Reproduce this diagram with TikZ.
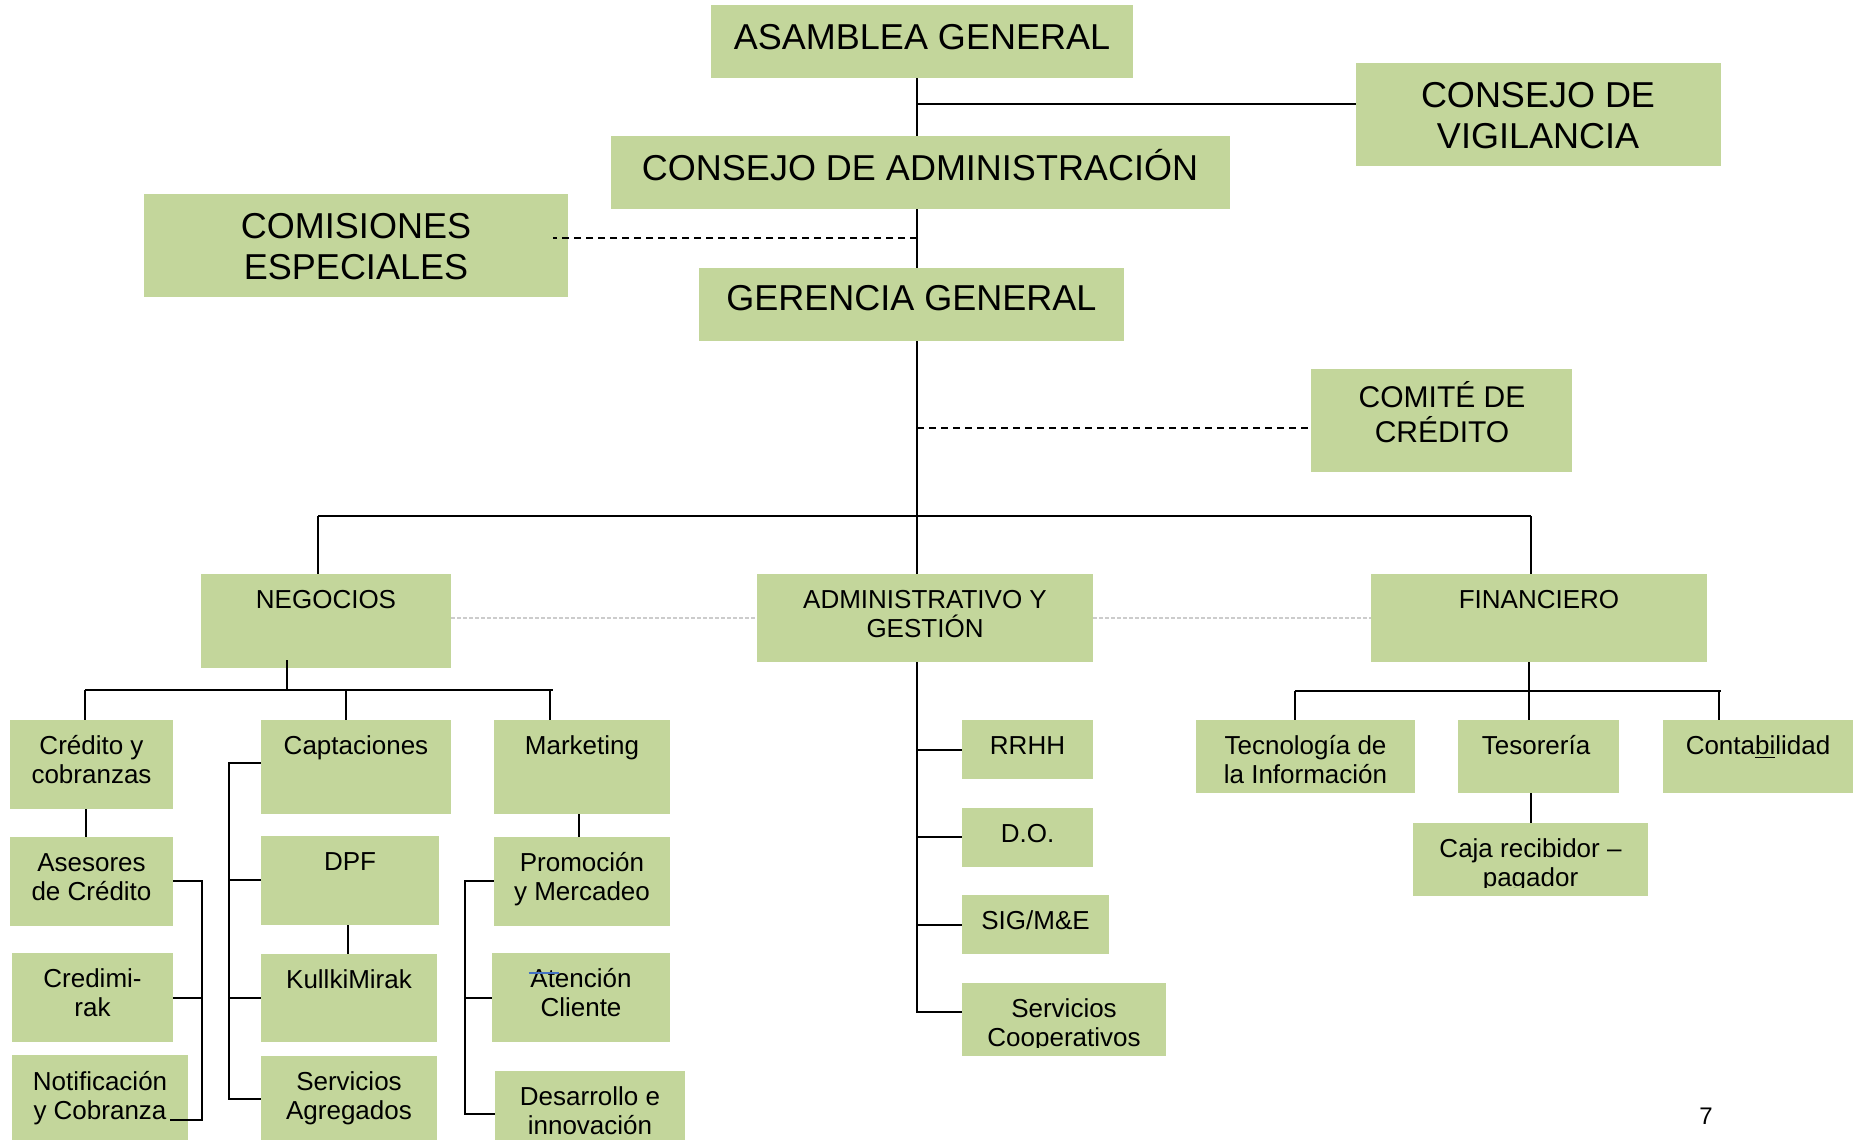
\documentclass[tikz,border=0pt]{standalone}
\usepackage{fontspec}
\setmainfont{Liberation Sans}
\usetikzlibrary{fit,calc}
\definecolor{boxgreen}{RGB}{195,214,155}
\definecolor{strikeblue}{RGB}{68,114,196}
\newcommand\orgbox[5]{\node[orgbox, fit={(#2,#3) (#4,#5)}] (#1) {};}
\newcommand\orgtext[5]{\node[anchor=north, align=center, inner sep=0pt, font=\fontsize{#3}{#4}\selectfont] at (#1,{#2-2*#3}) {\rule{0pt}{#3pt}#5};}
\tikzset{
  orgbox/.style={rectangle, fill=boxgreen, draw=none, inner sep=0pt},
  conn/.style={line width=0.9pt},
  trunk/.style={line width=0.6pt},
  bus/.style={line width=1.1pt},
  subbus/.style={line width=1.05pt},
  dsh/.style={dash pattern=on 3.5pt off 2.5pt, line width=0.8pt},
  gdot/.style={draw=black!20, dash pattern=on 2pt off 1pt, line width=1pt}
}
\begin{document}
\begin{tikzpicture}[x=0.5pt,y=-0.5pt]
\useasboundingbox (0,0) rectangle (1856,1140);
% ---------- boxes ----------
\orgbox{asm}{711}{5}{1133}{78}
\orgbox{vig}{1356}{63}{1721}{166}
\orgbox{cadm}{611}{136}{1230}{209}
\orgbox{com}{144}{194}{568}{297}
\orgbox{ger}{699}{268}{1124}{341}
\orgbox{cte}{1311}{369}{1572}{472}
\orgbox{neg}{201}{574}{451}{668}
\orgbox{adm}{757}{574}{1093}{662}
\orgbox{fin}{1371}{574}{1707}{662}
\orgbox{cyc}{10}{720}{173}{809}
\orgbox{cap}{261}{720}{451}{814}
\orgbox{mkt}{494}{720}{670}{814}
\orgbox{ase}{10}{837}{173}{926}
\orgbox{cdr}{12}{953}{173}{1042}
\orgbox{not}{12}{1055}{188}{1140}
\orgbox{dpf}{261}{836}{439}{925}
\orgbox{kul}{261}{954}{437}{1042}
\orgbox{sag}{261}{1056}{437}{1140}
\orgbox{pym}{494}{837}{670}{926}
\orgbox{atc}{492}{953}{670}{1042}
\orgbox{dei}{495}{1071}{685}{1140}
\orgbox{rrh}{962}{720}{1093}{779}
\orgbox{dor}{962}{808}{1093}{867}
\orgbox{sig}{962}{895}{1109}{954}
\orgbox{sco}{962}{983}{1166}{1056}
\orgbox{tec}{1196}{720}{1415}{793}
\orgbox{tes}{1458}{720}{1619}{793}
\orgbox{cnt}{1663}{720}{1853}{793}
\orgbox{caj}{1413}{823}{1648}{896}
% ---------- texts ----------
\orgtext{922}{49}{18}{20.5}{ASAMBLEA GENERAL}
\orgtext{1538}{107}{18}{20.5}{CONSEJO DE\\VIGILANCIA}
\orgtext{920}{180}{18}{20.5}{CONSEJO DE ADMINISTRACIÓN}
\orgtext{356}{238}{18}{20.5}{COMISIONES\\ESPECIALES}
\orgtext{911.5}{310.5}{18}{20.5}{GERENCIA GENERAL}
\orgtext{1442}{407}{15}{17.5}{COMITÉ DE\\CRÉDITO}
\orgtext{326}{608}{13}{14.5}{NEGOCIOS}
\orgtext{925}{608}{13}{14.5}{ADMINISTRATIVO Y\\GESTIÓN}
\orgtext{1539}{608}{13}{14.5}{FINANCIERO}
\orgtext{91.5}{754}{13}{14.5}{Crédito y\\cobranzas}
\orgtext{356}{754}{13}{14.5}{Captaciones}
\orgtext{582}{754}{13}{14.5}{Marketing}
\orgtext{91.5}{871}{13}{14.5}{Asesores\\de Crédito}
\orgtext{92.5}{987}{13}{14.5}{Credimi-\\rak}
\orgtext{100}{1090}{13}{14.5}{Notificación\\y Cobranza}
\orgtext{350}{870}{13}{14.5}{DPF}
\orgtext{349}{988}{13}{14.5}{KullkiMirak}
\orgtext{349}{1090}{13}{14.5}{Servicios\\Agregados}
\orgtext{582}{871}{13}{14.5}{Promoción\\y Mercadeo}
\orgtext{581}{987}{13}{14.5}{Atención\\Cliente}
\orgtext{590}{1105}{13}{14.5}{Desarrollo e\\innovación}
\orgtext{1027.5}{754}{13}{14.5}{RRHH}
\orgtext{1027.5}{842}{13}{14.5}{D.O.}
\orgtext{1035.5}{929}{13}{14.5}{SIG/M\&E}
\begin{scope}
\clip (sco.north west) rectangle ($(sco.south east)+(0,-9)$);
\orgtext{1064}{1017}{13}{14.5}{Servicios\\Cooperativos}
\end{scope}
\orgtext{1305.5}{754}{13}{14.5}{Tecnología de\\la Información}
\orgtext{1536}{754}{13}{14.5}{Tesorería}
\orgtext{1758}{754}{13}{14.5}{Conta\underline{bi}lidad}
\begin{scope}
\clip (caj.north west) rectangle ($(caj.south east)+(0,-9)$);
\orgtext{1530.5}{857}{13}{14.5}{Caja recibidor –\\pagador}
\end{scope}
\node[font=\fontsize{12}{14}\selectfont, inner sep=0pt] (pg) at (1706,1116) {7};
\draw[strikeblue, line width=1pt] ($(atc.north west)+(37,20)$) -- ($(atc.north west)+(67,20)$);
% ---------- top connectors ----------
\coordinate (tx) at (917,0);
\draw[trunk] (asm.south -| tx) -- (cadm.north -| tx);
\draw[trunk] (cadm.south -| tx) -- (ger.north -| tx);
\draw[trunk] (ger.south -| tx) -- (adm.north -| tx);
\coordinate (jv) at (917,104);
\draw[line width=1pt] (jv) -- (jv -| vig.west);
\coordinate (jc) at (917,238);
\draw[dsh] (jc) -- ($(jc -| com.east)+(-15,0)$);
\coordinate (jt) at (917,428);
\draw[dsh] (jt) -- (jt -| cte.west);
\coordinate (bL) at (318,516);
\coordinate (bR) at (1531,516);
\draw[bus] (bL) -- (bR);
\draw[conn] (bL) -- (bL |- neg.north);
\draw[conn] (bR) -- (bR |- fin.north);
\draw[gdot] (adm.west -| neg.east) -- (adm.west);
\draw[gdot] (adm.east) -- (fin.west);
% ---------- negocios ----------
\coordinate (nb) at (287,690);
\coordinate (nL) at (85,690);
\coordinate (nC) at (346,690);
\coordinate (nM) at (550,690);
\coordinate (nR) at (553,690);
\draw[conn] ($(neg.south -| nb)+(0,-8)$) -- (nb);
\draw[subbus] (nL) -- (nR);
\draw[conn] (nL) -- (nL |- cyc.north);
\draw[conn] (nC) -- (nC |- cap.north);
\draw[conn] (nM) -- (nM |- mkt.north);
\coordinate (ca) at (86,0);
\draw[conn] (cyc.south -| ca) -- (ase.north -| ca);
\coordinate (k1) at (202,881);
\coordinate (k2) at (202,998);
\coordinate (k3) at (202,1120);
\draw[conn] (k1 -| ase.east) -- (k1) -- (k3) -- ($(k3 -| cdr.east)+(-3,0)$);
\draw[conn] (k2 -| cdr.east) -- (k2);
\coordinate (p1) at (229,763);
\coordinate (p2) at (229,880);
\coordinate (p3) at (229,998);
\coordinate (p4) at (229,1099);
\draw[conn] (p1 -| cap.west) -- (p1) -- (p4) -- (p4 -| sag.west);
\draw[conn] (p2) -- (p2 -| dpf.west);
\draw[conn] (p3) -- (p3 -| kul.west);
\coordinate (dk) at (348,0);
\draw[conn] (dpf.south -| dk) -- (kul.north -| dk);
\coordinate (mk) at (579,0);
\draw[conn] (mkt.south -| mk) -- (pym.north -| mk);
\coordinate (m1) at (465,881);
\coordinate (m2) at (465,998);
\coordinate (m3) at (465,1114);
\draw[conn] (m1 -| pym.west) -- (m1) -- (m3) -- (m3 -| dei.west);
\draw[conn] (m2) -- (m2 -| atc.west);
% ---------- administrativo ----------
\coordinate (a1) at (917,750);
\coordinate (a2) at (917,837);
\coordinate (a3) at (917,925);
\coordinate (a4) at (917,1012);
\draw[conn] (adm.south -| a1) -- (a4) -- (a4 -| sco.west);
\draw[conn] (a1) -- (a1 -| rrh.west);
\draw[conn] (a2) -- (a2 -| dor.west);
\draw[conn] (a3) -- (a3 -| sig.west);
% ---------- financiero ----------
\coordinate (f0) at (1529,691);
\coordinate (fL) at (1295,691);
\coordinate (fR) at (1721,691);
\coordinate (fD) at (1719,691);
\draw[conn] (fin.south -| f0) -- (tes.north -| f0);
\draw[subbus] (fL) -- (fR);
\draw[conn] (fL) -- (fL |- tec.north);
\draw[conn] (fD) -- (fD |- cnt.north);
\coordinate (tc) at (1531,0);
\draw[conn] (tes.south -| tc) -- (caj.north -| tc);
\end{tikzpicture}
\end{document}
